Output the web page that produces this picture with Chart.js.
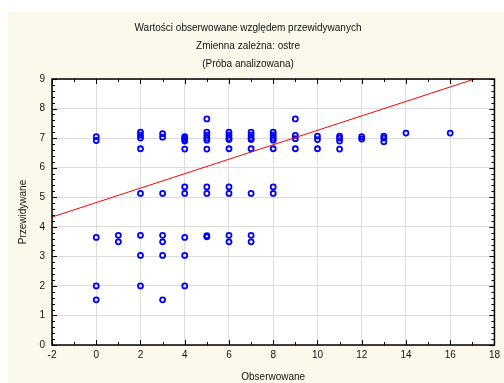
<!DOCTYPE html>
<html>
<head>
<meta charset="utf-8">
<script src="https://cdn.jsdelivr.net/npm/chart.js@4"></script>
<style>
  html, body { margin: 0; padding: 0; background: #fff; }
  #wrap { width: 504px; height: 383px; }
</style>
</head>
<body>
<div id="wrap"><canvas id="wykres" width="504" height="383"></canvas></div>
<script>
// obserwowane (x) i przewidywane (y) - punkt po punkcie
const obserwowane = [
  0, 0, 0, 0, 0,
  1, 1,
  2, 2, 2, 2, 2, 2, 2, 2,
  3, 3, 3, 3, 3, 3, 3,
  4, 4, 4, 4, 4, 4, 4, 4, 4, 4,
  5, 5, 5, 5, 5, 5, 5, 5, 5, 5,
  6, 6, 6, 6, 6, 6, 6, 6, 6,
  7, 7, 7, 7, 7, 7, 7, 7,
  8, 8, 8, 8, 8, 8, 8,
  9, 9, 9, 9,
  10, 10, 10,
  11, 11, 11, 11,
  12, 12,
  13, 13, 13,
  14,
  16
];
const przewidywane = [
  7.05, 6.92, 3.64, 2.0, 1.53,
  3.71, 3.49,
  7.2, 7.1, 7.0, 6.64, 5.13, 3.71, 3.03, 2.0,
  7.15, 7.03, 5.13, 3.71, 3.49, 3.03, 1.53,
  7.05, 7.0, 6.95, 6.9, 6.63, 5.35, 5.13, 3.64, 3.03, 2.0,
  7.65, 7.2, 7.1, 7.0, 6.93, 6.63, 5.35, 5.13, 3.7, 3.66,
  7.2, 7.1, 7.0, 6.95, 6.64, 5.35, 5.13, 3.71, 3.49,
  7.2, 7.1, 7.0, 6.95, 6.64, 5.13, 3.71, 3.49,
  7.2, 7.1, 7.0, 6.93, 6.64, 5.35, 5.13,
  7.65, 7.09, 6.98, 6.64,
  7.07, 6.95, 6.64,
  7.07, 7.0, 6.9, 6.63,
  7.05, 6.97,
  7.07, 7.0, 6.88,
  7.17,
  7.17
];

// prosta dopasowania (końce odcinka)
const liniaX = [-2, 18];
const liniaY = [4.33, 9.22];

const tytul = [
  'Wartości obserwowane względem przewidywanych',
  'Zmienna zależna: ostre',
  '(Próba analizowana)'
];

const czcionka = 'Liberation Sans';

// tło: biały margines, kremowa ramka, biały obszar wykresu
const tlo = {
  id: 'tlo',
  beforeDraw(chart) {
    const { ctx, chartArea: a } = chart;
    ctx.save();
    ctx.fillStyle = '#ffffff';
    ctx.fillRect(0, 0, chart.width, chart.height);
    ctx.fillStyle = '#fdf8ec';
    ctx.fillRect(8, 12, chart.width - 8, chart.height - 12);
    ctx.fillStyle = '#ffffff';
    ctx.fillRect(a.left, a.top, a.right - a.left, a.bottom - a.top);
    ctx.restore();
  }
};

// ramka osi z kreskami skierowanymi do środka
const ramka = {
  id: 'ramka',
  afterDatasetsDraw(chart) {
    const { ctx, chartArea: a, scales } = chart;
    ctx.save();
    ctx.strokeStyle = '#000';
    ctx.lineWidth = 1;
    ctx.beginPath();
    for (let i = 0; i <= 45; i++) {
      const v = i / 5;
      const y = Math.round(scales.y.getPixelForValue(v)) + 0.5;
      const len = i % 5 === 0 ? 5 : 3;
      ctx.moveTo(a.left, y); ctx.lineTo(a.left + len, y);
      ctx.moveTo(a.right, y); ctx.lineTo(a.right - len, y);
    }
    for (let v = -2; v <= 18; v++) {
      const x = Math.round(scales.x.getPixelForValue(v)) + 0.5;
      const len = v % 2 === 0 ? 5 : 3;
      ctx.moveTo(x, a.bottom); ctx.lineTo(x, a.bottom - len);
      ctx.moveTo(x, a.top); ctx.lineTo(x, a.top + len);
    }
    ctx.stroke();
    ctx.lineWidth = 1.5;
    ctx.strokeRect(a.left, a.top, a.right - a.left, a.bottom - a.top);
    ctx.restore();
  }
};

new Chart(document.getElementById('wykres'), {
  type: 'scatter',
  data: {
    datasets: [
      {
        type: 'line',
        data: liniaX.map((x, i) => ({ x: x, y: liniaY[i] })),
        borderColor: '#ff0000',
        borderWidth: 1,
        pointRadius: 0,
        fill: false
      },
      {
        data: obserwowane.map((x, i) => ({ x: x, y: przewidywane[i] })),
        pointRadius: 2.5,
        borderWidth: 1.8,
        borderColor: '#0000ff',
        backgroundColor: 'transparent'
      }
    ]
  },
  options: {
    responsive: false,
    animation: false,
    layout: { padding: { left: 0, right: 8, top: 0, bottom: 0 } },
    plugins: {
      legend: { display: false },
      tooltip: { enabled: false },
      title: {
        display: true,
        text: tytul,
        color: '#111',
        font: { family: czcionka, size: 10, weight: 'normal', lineHeight: 1.8 },
        padding: { top: 19, bottom: 6 }
      }
    },
    scales: {
      x: {
        type: 'linear',
        min: -2,
        max: 18,
        afterFit(s) { s.height = 38; },
        border: { display: false },
        grid: { color: '#dcdcdc', drawTicks: false },
        ticks: {
          stepSize: 2,
          padding: 4,
          color: '#111',
          font: { family: czcionka, size: 10 }
        },
        title: {
          display: true,
          text: 'Obserwowane',
          color: '#111',
          font: { family: czcionka, size: 10, lineHeight: 1.2 },
          padding: { top: 0, bottom: 0 }
        }
      },
      y: {
        min: 0,
        max: 9,
        afterFit(s) { s.width = 52; },
        border: { display: false },
        grid: { color: '#dcdcdc', drawTicks: false },
        ticks: {
          stepSize: 1,
          padding: 7,
          color: '#111',
          font: { family: czcionka, size: 10 }
        },
        title: {
          display: true,
          text: 'Przewidywane',
          color: '#111',
          font: { family: czcionka, size: 10, lineHeight: 1.2 },
          padding: { top: 17, bottom: 0 }
        }
      }
    }
  },
  plugins: [tlo, ramka]
});
</script>
</body>
</html>
